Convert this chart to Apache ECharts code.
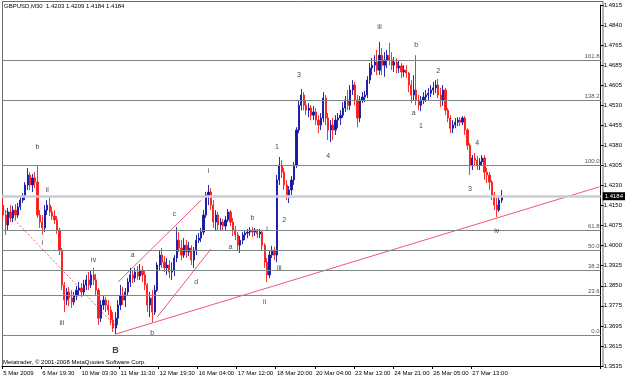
<!DOCTYPE html>
<html><head><meta charset="utf-8">
<script src="https://cdn.jsdelivr.net/npm/echarts@6/dist/echarts.min.js"></script>
<style>html,body{margin:0;padding:0;background:#fff}#c{width:625px;height:378px}</style>
</head><body><div id="c"></div>
<script>
// ---- data ----
const xTickLabels = ['5 Mar 2009','6 Mar 19:30','10 Mar 03:30','11 Mar 11:30','12 Mar 19:30','16 Mar 04:00','17 Mar 12:00','18 Mar 20:00','20 Mar 04:00','23 Mar 13:00','24 Mar 21:00','26 Mar 05:00','27 Mar 13:00'];
const priceTicks = ['1.3535','1.3615','1.3695','1.3775','1.3850','1.3925','1.4000','1.4075','1.4150','1.4230','1.4305','1.4380','1.4455','1.4530','1.4605','1.4685','1.4765','1.4840','1.4915'];
const opens = [
1.4150,1.4112,1.4074,1.4124,1.4101,1.4131,1.4112,1.4143,1.4169,1.4185,
1.4227,1.4265,1.4227,1.4254,1.4238,1.4112,1.4085,1.4063,1.4131,1.4150,
1.4124,1.4108,1.4093,1.4055,1.3978,1.3845,1.3787,1.3818,1.3795,1.3780,
1.3803,1.3825,1.3833,1.3818,1.3845,1.3864,1.3845,1.3883,1.3864,1.3825,
1.3718,1.3768,1.3787,1.3768,1.3749,1.3711,1.3680,1.3718,1.3768,1.3806,
1.3787,1.3818,1.3856,1.3883,1.3871,1.3894,1.3879,1.3902,1.3883,1.3845,
1.3768,1.3795,1.3741,1.3825,1.3921,1.3959,1.3932,1.3910,1.3921,1.3894,
1.3902,1.3948,1.4016,1.3986,1.3959,1.3997,1.3971,1.3986,1.3940,1.3978,
1.4016,1.4024,1.4047,1.4112,1.4189,1.4200,1.4150,1.4085,1.4112,1.4074,
1.4085,1.4070,1.4093,1.4124,1.4085,1.4055,1.4036,1.3997,1.4016,1.4036,
1.4043,1.4047,1.4055,1.4047,1.4055,1.4040,1.4047,1.3997,1.3932,1.3883,
1.3959,1.3978,1.3959,1.4246,1.4303,1.4276,1.4227,1.4189,1.4208,1.4246,
1.4303,1.4437,1.4532,1.4571,1.4532,1.4513,1.4521,1.4494,1.4506,1.4475,
1.4456,1.4483,1.4559,1.4483,1.4437,1.4456,1.4437,1.4475,1.4483,1.4494,
1.4521,1.4552,1.4532,1.4590,1.4609,1.4552,1.4483,1.4552,1.4563,1.4571,
1.4628,1.4674,1.4685,1.4697,1.4666,1.4723,1.4685,1.4705,1.4723,1.4705,
1.4685,1.4697,1.4674,1.4682,1.4659,1.4666,1.4655,1.4609,1.4571,1.4590,
1.4552,1.4532,1.4552,1.4563,1.4571,1.4578,1.4590,1.4598,1.4609,1.4571,
1.4552,1.4590,1.4513,1.4483,1.4444,1.4456,1.4467,1.4475,1.4467,1.4483,
1.4437,1.4379,1.4303,1.4330,1.4322,1.4303,1.4315,1.4330,1.4276,1.4265,
1.4238,1.4189,1.4150,1.4131,1.4169];
const closes = [
1.4112,1.4074,1.4124,1.4101,1.4131,1.4112,1.4143,1.4169,1.4185,1.4227,
1.4265,1.4227,1.4254,1.4238,1.4112,1.4085,1.4063,1.4131,1.4150,1.4124,
1.4108,1.4093,1.4055,1.3978,1.3845,1.3787,1.3818,1.3795,1.3780,1.3803,
1.3825,1.3833,1.3818,1.3845,1.3864,1.3845,1.3883,1.3864,1.3825,1.3718,
1.3768,1.3787,1.3768,1.3749,1.3711,1.3680,1.3718,1.3768,1.3806,1.3787,
1.3818,1.3856,1.3883,1.3871,1.3894,1.3879,1.3902,1.3883,1.3845,1.3768,
1.3795,1.3741,1.3825,1.3921,1.3959,1.3932,1.3910,1.3921,1.3894,1.3902,
1.3948,1.4016,1.3986,1.3959,1.3997,1.3971,1.3986,1.3940,1.3978,1.4016,
1.4024,1.4047,1.4112,1.4189,1.4200,1.4150,1.4085,1.4112,1.4074,1.4085,
1.4070,1.4093,1.4124,1.4085,1.4055,1.4036,1.3997,1.4016,1.4036,1.4043,
1.4047,1.4055,1.4047,1.4055,1.4040,1.4047,1.3997,1.3932,1.3883,1.3959,
1.3978,1.3959,1.4246,1.4303,1.4276,1.4227,1.4189,1.4208,1.4246,1.4303,
1.4437,1.4532,1.4571,1.4532,1.4513,1.4521,1.4494,1.4506,1.4475,1.4456,
1.4483,1.4559,1.4483,1.4437,1.4456,1.4437,1.4475,1.4483,1.4494,1.4521,
1.4552,1.4532,1.4590,1.4609,1.4552,1.4483,1.4552,1.4563,1.4571,1.4628,
1.4674,1.4685,1.4697,1.4666,1.4723,1.4685,1.4705,1.4723,1.4705,1.4685,
1.4697,1.4674,1.4682,1.4659,1.4666,1.4655,1.4609,1.4571,1.4590,1.4552,
1.4532,1.4552,1.4563,1.4571,1.4578,1.4590,1.4598,1.4609,1.4571,1.4552,
1.4590,1.4513,1.4483,1.4444,1.4456,1.4467,1.4475,1.4467,1.4483,1.4437,
1.4379,1.4303,1.4330,1.4322,1.4303,1.4315,1.4330,1.4276,1.4265,1.4238,
1.4189,1.4150,1.4131,1.4169,1.4184];
const highs = [
1.4177,1.4131,1.4139,1.4150,1.4147,1.4154,1.4158,1.4185,1.4196,1.4238,
1.4292,1.4276,1.4269,1.4276,1.4299,1.4131,1.4112,1.4150,1.4169,1.4181,
1.4143,1.4131,1.4108,1.4063,1.3986,1.3856,1.3833,1.3837,1.3825,1.3818,
1.3841,1.3856,1.3852,1.3864,1.3883,1.3894,1.3902,1.3910,1.3887,1.3833,
1.3787,1.3806,1.3799,1.3787,1.3764,1.3741,1.3741,1.3787,1.3845,1.3837,
1.3833,1.3871,1.3910,1.3902,1.3910,1.3917,1.3925,1.3917,1.3902,1.3852,
1.3818,1.3825,1.3845,1.3932,1.3978,1.3986,1.3955,1.3948,1.3940,1.3932,
1.3959,1.4066,1.4047,1.4016,1.4024,1.4016,1.4009,1.3997,1.3990,1.4036,
1.4043,1.4063,1.4131,1.4200,1.4227,1.4215,1.4169,1.4131,1.4124,1.4101,
1.4097,1.4108,1.4135,1.4131,1.4101,1.4070,1.4047,1.4032,1.4047,1.4055,
1.4059,1.4066,1.4066,1.4063,1.4059,1.4059,1.4055,1.4005,1.3948,1.3978,
1.3994,1.3990,1.4265,1.4334,1.4322,1.4292,1.4246,1.4223,1.4261,1.4315,
1.4448,1.4552,1.4594,1.4582,1.4552,1.4540,1.4532,1.4529,1.4521,1.4494,
1.4502,1.4582,1.4571,1.4502,1.4475,1.4483,1.4494,1.4502,1.4513,1.4544,
1.4567,1.4590,1.4609,1.4628,1.4621,1.4571,1.4567,1.4582,1.4586,1.4643,
1.4693,1.4712,1.4723,1.4743,1.4774,1.4750,1.4735,1.4743,1.4770,1.4735,
1.4716,1.4712,1.4705,1.4693,1.4685,1.4685,1.4659,1.4628,1.4647,1.4723,
1.4571,1.4567,1.4582,1.4590,1.4598,1.4609,1.4621,1.4628,1.4632,1.4598,
1.4609,1.4598,1.4521,1.4494,1.4475,1.4483,1.4486,1.4486,1.4490,1.4490,
1.4444,1.4387,1.4341,1.4349,1.4338,1.4330,1.4341,1.4341,1.4292,1.4276,
1.4246,1.4200,1.4177,1.4185,1.4208];
const lows = [
1.4093,1.4036,1.4055,1.4085,1.4085,1.4093,1.4101,1.4131,1.4158,1.4169,
1.4208,1.4208,1.4200,1.4215,1.4101,1.4063,1.4036,1.4047,1.4112,1.4108,
1.4093,1.4078,1.4040,1.3959,1.3825,1.3741,1.3768,1.3764,1.3757,1.3768,
1.3787,1.3806,1.3799,1.3803,1.3825,1.3825,1.3833,1.3845,1.3806,1.3692,
1.3703,1.3749,1.3741,1.3730,1.3692,1.3665,1.3657,1.3692,1.3749,1.3768,
1.3760,1.3803,1.3837,1.3852,1.3856,1.3864,1.3864,1.3856,1.3825,1.3741,
1.3722,1.3703,1.3730,1.3818,1.3902,1.3910,1.3894,1.3883,1.3871,1.3864,
1.3879,1.3932,1.3971,1.3940,1.3948,1.3948,1.3955,1.3921,1.3910,1.3959,
1.4005,1.4009,1.4036,1.4101,1.4150,1.4131,1.4063,1.4055,1.4055,1.4055,
1.4051,1.4055,1.4085,1.4070,1.4032,1.4016,1.3978,1.3967,1.4001,1.4016,
1.4024,1.4032,1.4028,1.4032,1.4024,1.4024,1.3978,1.3910,1.3856,1.3871,
1.3948,1.3940,1.3932,1.4227,1.4254,1.4208,1.4169,1.4158,1.4189,1.4227,
1.4292,1.4425,1.4513,1.4513,1.4494,1.4486,1.4475,1.4475,1.4456,1.4425,
1.4437,1.4467,1.4456,1.4399,1.4391,1.4399,1.4418,1.4444,1.4456,1.4483,
1.4506,1.4513,1.4513,1.4571,1.4532,1.4448,1.4467,1.4540,1.4544,1.4559,
1.4613,1.4647,1.4659,1.4647,1.4647,1.4647,1.4640,1.4674,1.4685,1.4666,
1.4659,1.4655,1.4655,1.4636,1.4640,1.4636,1.4582,1.4540,1.4552,1.4532,
1.4513,1.4509,1.4536,1.4544,1.4552,1.4563,1.4571,1.4578,1.4559,1.4525,
1.4529,1.4494,1.4467,1.4425,1.4425,1.4444,1.4452,1.4452,1.4456,1.4418,
1.4361,1.4265,1.4284,1.4299,1.4284,1.4284,1.4299,1.4246,1.4234,1.4208,
1.4169,1.4131,1.4104,1.4124,1.4158];
const fibLevels = [0, 23.6, 38.2, 50.0, 61.8, 100.0, 138.2, 161.8];
const fibZeroPrice = 1.3654, fibHundredPrice = 1.4303;
const currentPrice = 1.4184;
const trendMain = [[46, 1.3657], [244, 1.4220]];
const trendDashed = [[0, 1.4139], [46, 1.3688]];
const channelUpper = [[47, 1.3856], [81, 1.4169]];
const channelLower = [[63, 1.3722], [85, 1.3982]];
const waveText  = ['b','ii','i','iii','iv','B','a','b','c','d','i','a','b','i','ii','iii','1','2','3','4','iii','b','a','1','2','4','3','iv'];
const waveSlot  = [14,18,16,24,37,46,53,61,70,79,84,93,102,108,107,113,112,115,121,133,154,169,168,171,178,194,191,202];
const wavePrice = [1.4372,1.4208,1.4005,1.3699,1.3940,1.3596,1.3959,1.3661,1.4116,1.3856,1.4280,1.3990,1.4101,1.4059,1.3780,1.3910,1.4372,1.4093,1.4647,1.4338,1.4831,1.4762,1.4502,1.4452,1.4662,1.4387,1.4211,1.4051];
const SLOT_COUNT = 245, LABEL_STEP = 16;
const headerText = 'GBPUSD,M30  1.4203 1.4209 1.4184 1.4184';
const footerText = 'Metatrader, \u00a9 2001-2008 MetaQuotes Software Corp.';

// ---- build ----
const FONT = '"Liberation Sans", Arial, sans-serif';
const FS = 6;
const categories = [];
for (let i = 0; i < SLOT_COUNT; i++) {
  categories.push(i % LABEL_STEP === 0 && i / LABEL_STEP < xTickLabels.length ? xTickLabels[i / LABEL_STEP] : '');
}
const lastLabelIdx = (xTickLabels.length - 1) * LABEL_STEP;
const candleData = opens.map((o, i) => [o, closes[i], lows[i], highs[i]]);
const fibLines = fibLevels.map(l => ({
  yAxis: fibZeroPrice + (fibHundredPrice - fibZeroPrice) * l / 100,
  label: { formatter: l.toFixed(1) }
}));
const pink = '#f2557a';
const lineSeries = (d, type) => ({
  type: 'line', data: d, symbol: 'none', silent: true, animation: false,
  lineStyle: { color: pink, width: 1, type: type || 'solid' }, z: 3
});
const waveData = waveText.map((t, i) => {
  const item = { value: [waveSlot[i], wavePrice[i]], name: t };
  if (t === 'B') item.label = { fontSize: 9, fontWeight: 'bold' };
  return item;
});

const levelSeries = {
  type: 'line', data: [], symbol: 'none', silent: true, z: 2,
  markLine: {
    silent: true, symbol: ['none', 'none'], animation: false, precision: 4,
    lineStyle: { color: '#7c8686', width: 1, type: 'solid' },
    label: { position: 'insideEndTop', distance: [1, 1], fontSize: FS, color: '#555', fontFamily: FONT },
    data: fibLines.concat([{
      yAxis: currentPrice,
      lineStyle: { color: '#c6ced6', width: 2.5, type: 'solid' },
      label: { position: 'end', distance: 2, formatter: currentPrice.toFixed(4), backgroundColor: '#000', color: '#fff', padding: [1, 2, 1, 2], fontSize: FS, fontFamily: FONT }
    }])
  }
};

const chart = echarts.init(document.getElementById('c'), null, { renderer: 'canvas' });
chart.setOption({
  animation: false,
  backgroundColor: '#ffffff',
  grid: { left: 2, right: 22, top: 5, bottom: 12 },
  xAxis: {
    type: 'category', data: categories, boundaryGap: true,
    axisLine: { lineStyle: { color: '#000', width: 1 } },
    axisTick: { show: true, length: 3, lineStyle: { color: '#000' },
      interval: (idx) => idx % LABEL_STEP === 0 && idx <= lastLabelIdx },
    axisLabel: { interval: (idx) => idx % LABEL_STEP === 0 && idx <= lastLabelIdx,
      align: 'left', margin: 4, fontSize: FS, color: '#000', fontFamily: FONT },
    splitLine: { show: false }
  },
  yAxis: [
    { type: 'value', min: 1.3535, max: 1.4915, show: false, splitLine: { show: false } },
    { type: 'category', data: priceTicks, boundaryGap: false, position: 'right',
      axisLine: { show: true, lineStyle: { color: '#000', width: 1 } },
      axisTick: { show: true, length: 3, interval: 0, lineStyle: { color: '#000' } },
      axisLabel: { interval: 0, margin: 3, fontSize: FS, color: '#000', fontFamily: FONT },
      splitLine: { show: false } }
  ],
  graphic: [
    { type: 'rect', shape: { x: 2.5, y: 1.5, width: 600.5, height: 365 }, style: { fill: 'none', stroke: '#6a6a6a', lineWidth: 1 }, z: 0, silent: true },
    { type: 'text', left: 4, top: 3, style: { text: headerText, fill: '#000', font: FS + 'px ' + FONT }, silent: true },
    { type: 'text', left: 3, top: 359, style: { text: footerText, fill: '#000', font: FS + 'px ' + FONT }, silent: true }
  ],
  series: [
    levelSeries,
    {
      type: 'candlestick', data: candleData, barWidth: 1.7, z: 4,
      itemStyle: { color: '#1414a6', color0: '#ff1a1a', borderColor: '#1414a6', borderColor0: '#ff1a1a', borderWidth: 0.9 }
    },
    lineSeries(trendMain),
    lineSeries(trendDashed, [2, 2]),
    lineSeries(channelUpper),
    lineSeries(channelLower),
    {
      type: 'scatter', data: waveData, symbol: 'circle', symbolSize: 1, silent: true, z: 6,
      itemStyle: { color: 'rgba(0,0,0,0)' },
      label: { show: true, position: 'inside', formatter: '{b}', fontSize: 7, color: '#111', fontFamily: FONT }
    }
  ]
});
</script>
</body></html>
